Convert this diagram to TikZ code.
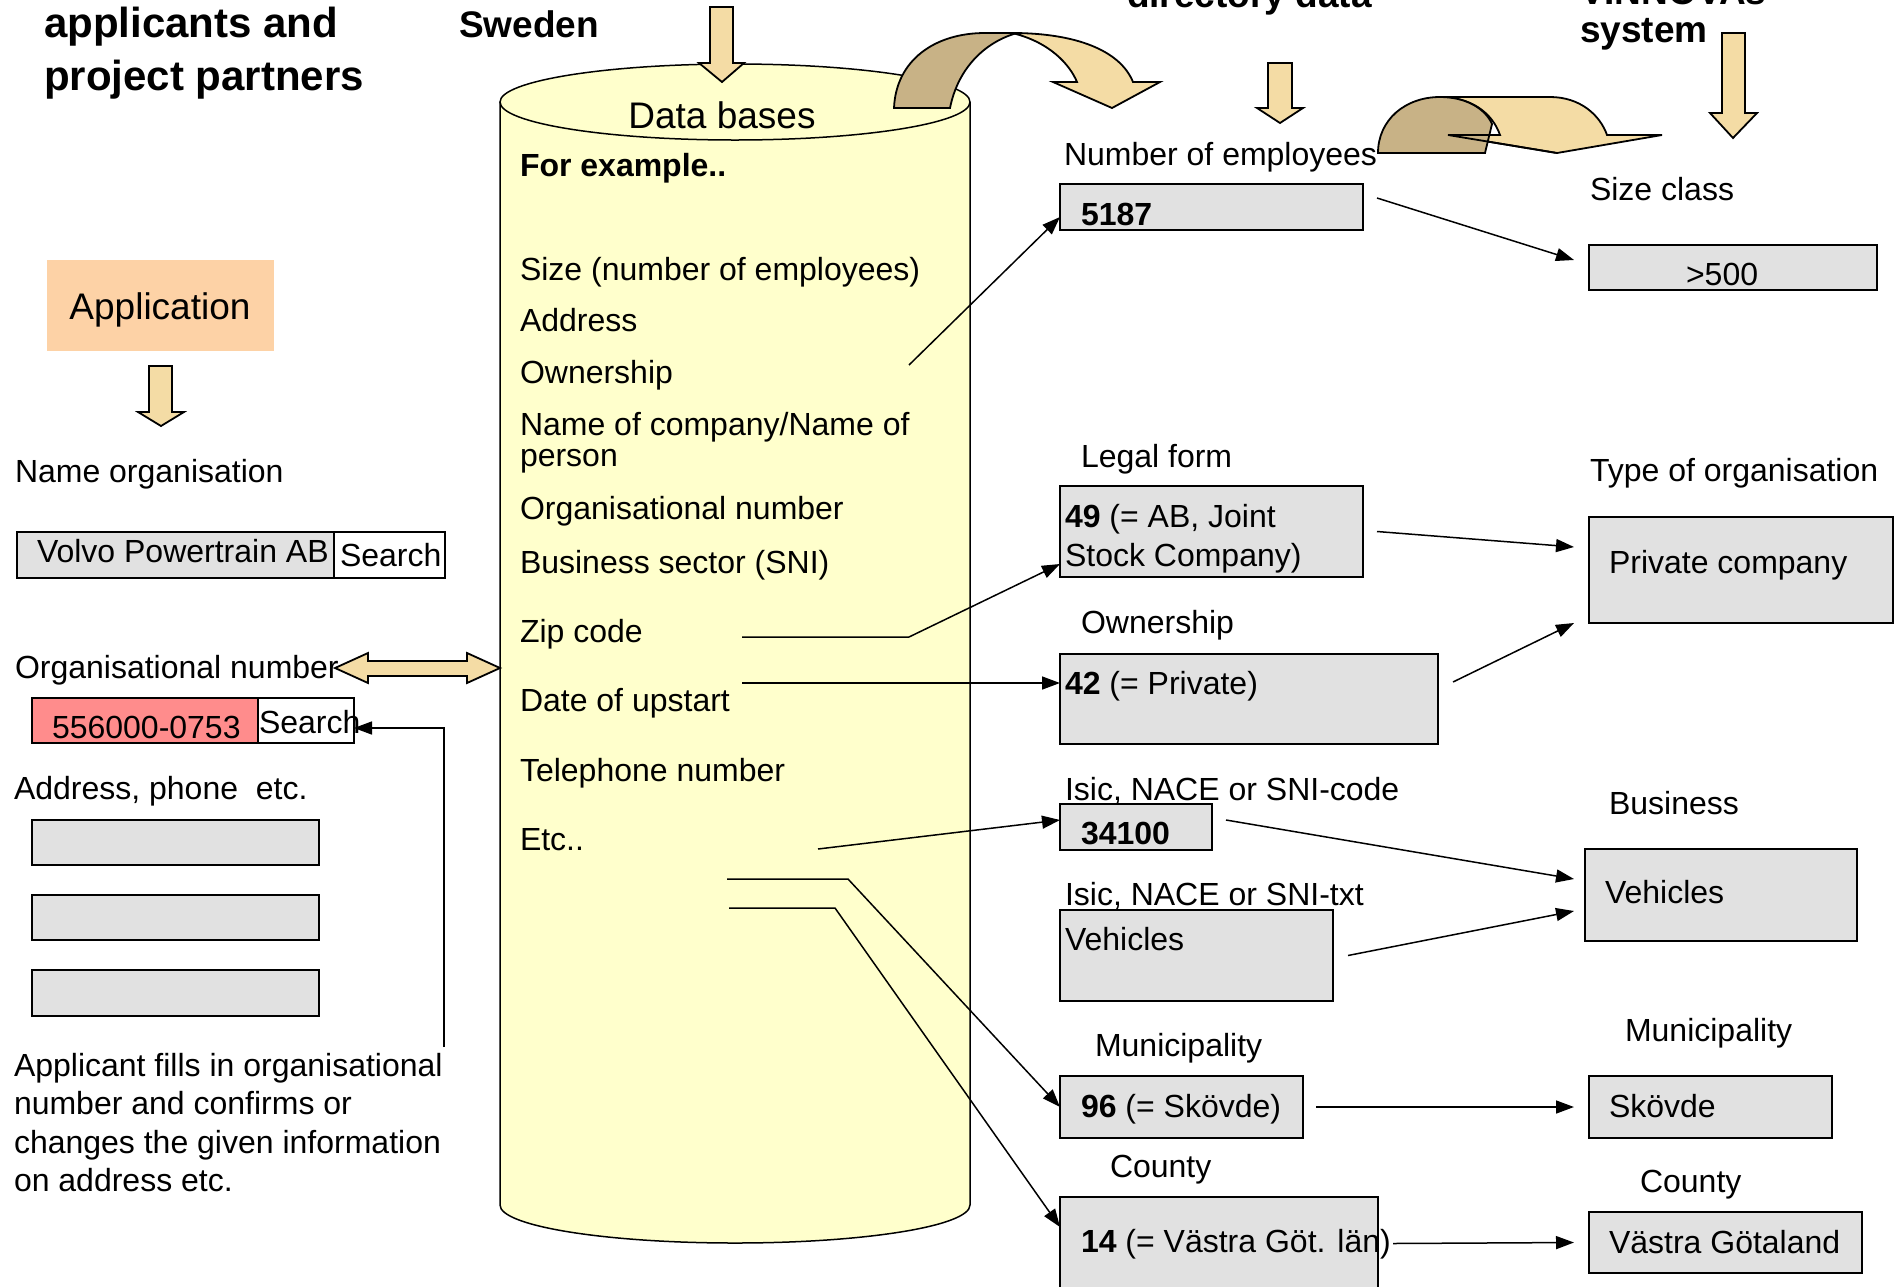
\documentclass[tikz,border=0pt]{standalone}
\usepackage{fontspec}
\setmainfont{Liberation Sans}
\usetikzlibrary{arrows.meta}
\definecolor{boxgray}{HTML}{E1E1E1}
\definecolor{cylfill}{HTML}{FFFFCC}
\definecolor{wheatc}{HTML}{F4DCA5}
\definecolor{darktan}{HTML}{C8B286}
\definecolor{peachc}{HTML}{FDD2A6}
\definecolor{salmonc}{HTML}{FF8C8C}
\newcommand\fsA{\fontsize{32}{38}\selectfont}
\newcommand\fsB{\fontsize{37}{44}\selectfont}
\newcommand\fsC{\fontsize{42}{50}\selectfont}
\tikzset{
  txt/.style={inner sep=0pt, outer sep=0pt, anchor=base west, font=\fsA},
  gbox/.style={draw, line width=2pt, fill=boxgray, inner sep=0pt, outer sep=0pt, anchor=north west},
  wbox/.style={gbox, fill=white},
  conn/.style={line width=1.5pt, -{Triangle[length=18pt,width=13pt]}},
  plain/.style={line width=1.5pt},
  blk/.style={draw, line width=1.8pt, fill=wheatc, line join=miter},
  blkdark/.style={draw, line width=1.8pt, fill=darktan, line join=miter},
}
\begin{document}
\begin{tikzpicture}[x=1pt,y=-1pt]
\useasboundingbox (0,0) rectangle (1898,1286);
\fill[white] (0,0) rectangle (1898,1286);

% ---------- cylinder ----------
\path[draw, fill=cylfill, line width=1.5pt] (500,102) -- (500,1205)
  .. controls (500,1226) and (605,1243) .. (735,1243)
  .. controls (865,1243) and (970,1226) .. (970,1205) -- (970,102);
\draw[fill=cylfill, line width=1.5pt] (735,102) ellipse [x radius=235, y radius=38];

% ---------- block arrows ----------
\path[blk] (710,7) -- (733,7) -- (733,63) -- (744,63) -- (722,82) -- (699,63) -- (710,63) -- cycle;
\path[blk] (1012,33) .. controls (1075,33) and (1120,50) .. (1133,82) -- (1160,82) -- (1112,108)
  -- (1053,82) -- (1077,82) .. controls (1070,65) and (1050,42) .. (1012,33) -- cycle;
\path[blkdark] (894,108) .. controls (896,60) and (935,33) .. (985,33) -- (1017,33)
  .. controls (985,42) and (958,68) .. (950,108) -- cycle;
\path[blk] (1268,63) -- (1292,63) -- (1292,108) -- (1303,108) -- (1280,123) -- (1257,108) -- (1268,108) -- cycle;
\path[blk] (1440,97) -- (1550,97) .. controls (1580,97) and (1600,115) .. (1607,135) -- (1662,135)
  -- (1557,153) -- (1448,135) -- (1500,135) .. controls (1492,112) and (1470,97) .. (1440,97) -- cycle;
\path[blkdark] (1378,153) .. controls (1378,120) and (1405,97) .. (1440,97)
  .. controls (1465,97) and (1485,108) .. (1492,124) -- (1485,153) -- cycle;
\draw[line width=1.8pt] (1500,135) -- (1448,135) -- (1557,153);
\path[blk] (1722,33) -- (1745,33) -- (1745,113) -- (1757,113) -- (1733,138) -- (1710,113) -- (1722,113) -- cycle;
\path[blk] (149,366) -- (172,366) -- (172,412) -- (184,412) -- (161,426) -- (138,412) -- (149,412) -- cycle;
\path[blk] (335,668) -- (368,653) -- (368,661) -- (467,661) -- (467,653) -- (500,668)
  -- (467,683) -- (467,676) -- (368,676) -- (368,683) -- cycle;

% ---------- top titles ----------
\node[txt, font=\fsC\bfseries] (tapp1) at (44,37) {applicants and};
\node[txt, font=\fsC\bfseries] (tapp2) at (44,90) {project partners};
\node[txt, font=\fsB\bfseries] (tswe) at (459,37) {Sweden};
\node[txt, font=\fsB\bfseries] (tdir) at (1127,7) {directory data};
\node[txt, font=\fsB\bfseries] (tvin) at (1580,4) {VINNOVAs};
\node[txt, font=\fsB\bfseries] (tsys) at (1580,42) {system};

% ---------- cylinder texts ----------
\node[txt, font=\fsB, anchor=base] (tdb) at (722,128) {Data bases};
\node[txt, font=\fsA\bfseries] (tfor) at (520,176) {For example..};
\node[txt] (l1) at (520,280) {Size (number of employees)};
\node[txt] (l2) at (520,331) {Address};
\node[txt] (l3) at (520,383) {Ownership};
\node[txt] (l4) at (520,435) {Name of company/Name of};
\node[txt] (l4b) at (520,466) {person};
\node[txt] (l5) at (520,519) {Organisational number};
\node[txt] (l6) at (520,573) {Business sector (SNI)};
\node[txt] (l7) at (520,642) {Zip code};
\node[txt] (l8) at (520,711) {Date of upstart};
\node[txt] (l9) at (520,781) {Telephone number};
\node[txt] (l10) at (520,850) {Etc..};

% ---------- left column ----------
\node[gbox, draw=none, fill=peachc, minimum width=227pt, minimum height=91pt] (app) at (47,260) {};
\node[txt, font=\fsB, anchor=base] (tappl) at (160,319) {Application};
\node[txt] (tname) at (15,482) {Name organisation};
\node[gbox, minimum width=378pt, minimum height=46pt] (volvo) at (17,532) {};
\node[wbox, minimum width=111pt, minimum height=46pt] (s1) at (334,532) {};
\node[txt] (tvolvo) at (37,562) {Volvo Powertrain AB};
\node[txt] (ts1) at (340,566) {Search};
\node[txt] (torg) at (15,678) {Organisational number};
\node[gbox, fill=salmonc, minimum width=226pt, minimum height=45pt] (red) at (32,698) {};
\node[wbox, minimum width=96pt, minimum height=45pt] (s2) at (258,698) {};
\node[txt] (tred) at (52,738) {556000-0753};
\node[txt] (ts2) at (259,733) {Search};
\node[txt] (taddr) at (14,799) {Address, phone\ \ etc.};
\node[gbox, minimum width=287pt, minimum height=45pt] (a1) at (32,820) {};
\node[gbox, minimum width=287pt, minimum height=45pt] (a2) at (32,895) {};
\node[gbox, minimum width=287pt, minimum height=46pt] (a3) at (32,970) {};
\node[txt] (p1) at (14,1076) {Applicant fills in organisational};
\node[txt] (p2) at (14,1114) {number and confirms or};
\node[txt] (p3) at (14,1153) {changes the given information};
\node[txt] (p4) at (14,1191) {on address etc.};

% ---------- right side boxes ----------
\node[gbox, minimum width=303pt, minimum height=46pt] (b5187) at (1060,184) {};
\node[gbox, minimum width=288pt, minimum height=45pt] (bgt) at (1589,245) {};
\node[gbox, minimum width=303pt, minimum height=91pt] (b49) at (1060,486) {};
\node[gbox, minimum width=304pt, minimum height=106pt] (bpriv) at (1589,517) {};
\node[gbox, minimum width=378pt, minimum height=90pt] (b42) at (1060,654) {};
\node[gbox, minimum width=152pt, minimum height=46pt] (b341) at (1060,804) {};
\node[gbox, minimum width=272pt, minimum height=92pt] (bvehr) at (1585,849) {};
\node[gbox, minimum width=273pt, minimum height=91pt] (bvehl) at (1060,910) {};
\node[gbox, minimum width=243pt, minimum height=62pt] (b96) at (1060,1076) {};
\node[gbox, minimum width=243pt, minimum height=62pt] (bskov) at (1589,1076) {};
\node[gbox, minimum width=318pt, minimum height=93pt] (b14) at (1060,1197) {};
\node[gbox, minimum width=273pt, minimum height=61pt] (bvast) at (1589,1212) {};

% ---------- right side texts ----------
\node[txt] (tnum) at (1064,165) {Number of employees};
\node[txt] (t5187) at (1081,225) {\textbf{5187}};
\node[txt] (tsize) at (1590,200) {Size class};
\node[txt] (tgt) at (1686,285) {>500};
\node[txt] (tlegal) at (1081,467) {Legal form};
\node[txt] (t49a) at (1065,527) {\textbf{49} (= AB, Joint};
\node[txt] (t49b) at (1065,566) {Stock Company)};
\node[txt] (ttype) at (1590,481) {Type of organisation};
\node[txt] (tpriv) at (1609,573) {Private company};
\node[txt] (town) at (1081,633) {Ownership};
\node[txt] (t42) at (1065,694) {\textbf{42} (= Private)};
\node[txt] (tisc) at (1065,800) {Isic, NACE or SNI-code};
\node[txt] (t341) at (1081,844) {\textbf{34100}};
\node[txt] (tbus) at (1609,814) {Business};
\node[txt] (tvehr) at (1605,903) {Vehicles};
\node[txt] (tist) at (1065,905) {Isic, NACE or SNI-txt};
\node[txt] (tvehl) at (1065,950) {Vehicles};
\node[txt] (tmunl) at (1095,1056) {Municipality};
\node[txt] (t96) at (1081,1117) {\textbf{96} (= Skövde)};
\node[txt] (tmunr) at (1625,1041) {Municipality};
\node[txt] (tskov) at (1609,1117) {Skövde};
\node[txt] (tcoul) at (1110,1177) {County};
\node[txt] (t14) at (1081,1252) {\textbf{14} (= Västra Göt. län)};
\node[txt] (tcour) at (1640,1192) {County};
\node[txt] (tvast) at (1609,1253) {Västra Götaland};

% ---------- connectors ----------
\coordinate (o1) at (909,365);
\coordinate (zip0) at (742,637);
\coordinate (zipk) at (909,637);
\coordinate (date0) at (742,683);
\coordinate (etc0) at (818,849);
\coordinate (la0) at (727,879);
\coordinate (lak) at (848,879);
\coordinate (lb0) at (729,908);
\coordinate (lbk) at (835,908);
\coordinate (cl) at (444,1047);

\draw[conn] (o1) -- ([yshift=-10pt]b5187.west);
\draw[conn] ([xshift=14pt,yshift=9pt]b5187.east) -- ([xshift=-15pt,yshift=7.5pt]bgt.west);
\draw[conn] (zip0) -- (zipk) -- ([yshift=-32.5pt]b49.west);
\draw[conn] ([xshift=14pt]b49.east) -- ([xshift=-15pt,yshift=23pt]bpriv.west);
\draw[conn] (date0) -- ([yshift=16pt]b42.west);
\draw[conn] ([xshift=15pt,yshift=17pt]b42.east) -- ([xshift=-15pt]bpriv.south west);
\draw[conn] (etc0) -- ([yshift=7pt]b341.west);
\draw[conn] ([xshift=14pt,yshift=7pt]b341.east) -- ([xshift=-11pt,yshift=16pt]bvehr.west);
\draw[conn] ([xshift=15pt]bvehl.east) -- ([xshift=-11pt,yshift=-16pt]bvehr.west);
\draw[conn] (la0) -- (lak) -- (b96.west);
\draw[conn] (lb0) -- (lbk) -- ([yshift=-30pt]b14.north west);
\draw[conn] ([xshift=13pt]b96.east) -- ([xshift=-15pt]bskov.west);
\draw[conn] ([xshift=15pt]b14.east) -- ([xshift=-15pt]bvast.west);
\draw[conn] (cl) |- ([yshift=-7.5pt]s2.east);
\end{tikzpicture}
\end{document}
